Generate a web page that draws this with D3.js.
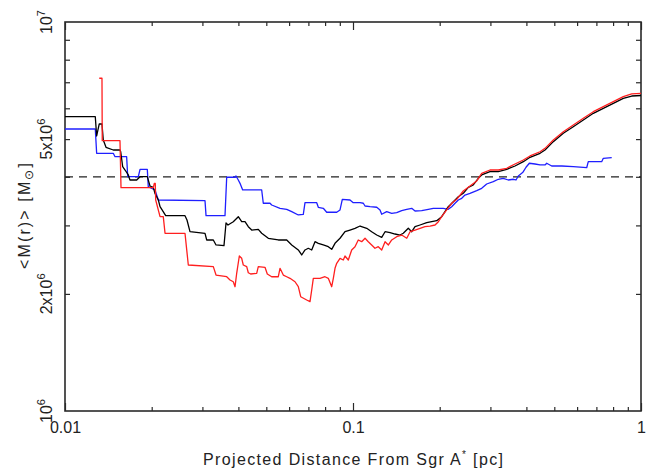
<!DOCTYPE html>
<html>
<head>
<meta charset="utf-8">
<script src="https://cdn.jsdelivr.net/npm/d3@7"></script>
<style>
  html, body { margin: 0; padding: 0; background: #fff; }
  svg { display: block; }
  text { font-family: "Liberation Sans", Arial, Helvetica, sans-serif; fill: #222; }
</style>
</head>
<body>
<svg id="chart" width="659" height="470"></svg>
<script>
// ---------------- data (x in pc, y in units of 10^6 solar masses) ----------------
const blackSeries = [
  [0.0100,5.709],[0.01274,5.709],[0.01288,5.093],[0.01315,5.468],[0.01344,5.468],[0.01358,4.975],
  [0.01388,4.763],[0.01471,4.688],[0.01552,4.688],[0.01561,4.640],[0.01586,4.246],[0.01616,4.164],
  [0.01659,4.044],[0.01681,3.925],[0.01774,3.925],[0.01822,4.003],[0.01931,4.003],[0.01973,3.788],
  [0.02026,3.759],[0.02053,3.627],[0.02109,3.487],[0.02138,3.351],[0.02237,3.178],[0.0261,3.178],
  [0.02652,3.097],[0.02716,2.890],[0.03063,2.863],[0.03105,2.752],[0.03273,2.752],[0.03345,2.672],
  [0.03565,2.661],[0.03623,3.043],[0.03681,3.007],[0.0384,3.066],[0.03997,3.159],[0.04107,3.066],
  [0.04217,3.066],[0.0433,2.977],[0.04449,2.919],[0.0469,2.931],[0.04819,2.863],[0.05081,2.780],
  [0.05503,2.752],[0.05886,2.752],[0.06127,2.672],[0.06458,2.594],[0.06636,2.518],[0.06813,2.594],
  [0.06995,2.620],[0.07188,2.594],[0.0738,2.724],[0.07578,2.698],[0.07886,2.672],[0.08208,2.645],
  [0.08435,2.604],[0.0866,2.698],[0.09014,2.780],[0.09381,2.890],[0.09763,2.919],[0.1016,2.949],
  [0.1058,2.989],[0.1116,2.949],[0.1161,2.890],[0.1209,2.834],[0.1258,2.796],[0.1292,2.890],
  [0.1345,2.873],[0.1399,2.851],[0.1456,2.834],[0.1495,2.863],[0.1556,2.949],[0.1599,2.890],
  [0.1642,2.977],[0.1709,3.007],[0.1803,3.049],[0.1876,3.066],[0.1953,3.085],[0.2032,3.159],
  [0.2086,3.254],[0.2142,3.351],[0.2230,3.451],[0.2321,3.555],[0.2415,3.627],[0.2514,3.759],
  [0.2616,3.811],[0.2723,3.965],[0.2798,4.044],[0.2990,4.123],[0.3195,4.123],[0.3417,4.182],
  [0.3652,4.264],[0.3903,4.374],[0.4118,4.489],[0.4461,4.597],[0.4642,4.688],[0.4961,4.925],
  [0.5374,5.176],[0.5820,5.381],[0.6306,5.599],[0.6830,5.825],[0.7398,5.999],[0.8014,6.180],
  [0.8680,6.366],[0.9285,6.453],[1.0,6.472]
];

const redSeries = [
  [0.01315,7.167],[0.01344,7.167],[0.01347,4.954],[0.01552,4.954],[0.01565,3.750],[0.02026,3.750],
  [0.02042,3.848],[0.02058,3.848],[0.02065,3.487],[0.02138,3.159],[0.02194,3.159],[0.02225,2.863],
  [0.0261,2.863],[0.0268,2.373],[0.03273,2.350],[0.03345,2.236],[0.03643,2.214],[0.03741,2.171],
  [0.0384,2.149],[0.03894,2.087],[0.03947,2.263],[0.0403,2.503],[0.04107,2.469],[0.0416,2.373],
  [0.04275,2.350],[0.0433,2.267],[0.04413,2.250],[0.0463,2.259],[0.0469,2.350],[0.04948,2.341],
  [0.0504,2.250],[0.0522,2.214],[0.05503,2.214],[0.05579,2.327],[0.05728,2.236],[0.05886,2.214],
  [0.06043,2.193],[0.0629,2.149],[0.06458,2.087],[0.06583,1.967],[0.06906,1.929],[0.07091,1.910],
  [0.07188,2.047],[0.07281,2.193],[0.07681,2.193],[0.07994,2.214],[0.08208,2.193],[0.08435,2.087],
  [0.08544,2.193],[0.0866,2.327],[0.08779,2.397],[0.09014,2.469],[0.09254,2.445],[0.09381,2.503],
  [0.09632,2.445],[0.09896,2.594],[0.1016,2.645],[0.1043,2.752],[0.1072,2.724],[0.1101,2.780],
  [0.1130,2.724],[0.1161,2.672],[0.1192,2.620],[0.1224,2.645],[0.1258,2.594],[0.1292,2.724],
  [0.1327,2.672],[0.1363,2.752],[0.1418,2.806],[0.1476,2.834],[0.1537,2.780],[0.1578,2.890],
  [0.1642,2.919],[0.1709,2.949],[0.1778,2.977],[0.1851,2.989],[0.1927,3.007],[0.1979,3.066],
  [0.2032,3.159],[0.2115,3.287],[0.2201,3.420],[0.2292,3.501],[0.2415,3.678],[0.2548,3.788],
  [0.2689,3.903],[0.2798,4.084],[0.2990,4.164],[0.3195,4.164],[0.3417,4.207],[0.3652,4.315],
  [0.3903,4.418],[0.4118,4.525],[0.4461,4.640],[0.4642,4.734],[0.4961,4.975],[0.5374,5.224],
  [0.5820,5.435],[0.6306,5.655],[0.6830,5.881],[0.7398,6.058],[0.8014,6.239],[0.8680,6.427],
  [0.9285,6.531],[1.0,6.558]
];

const blueSeries = [
  [0.0100,5.308],[0.01274,5.308],[0.01288,4.597],[0.01471,4.597],[0.01492,4.505],[0.01637,4.505],
  [0.01651,4.003],[0.01797,4.003],[0.01822,4.182],[0.01931,4.182],[0.01946,3.773],[0.02053,3.700],
  [0.02109,3.487],[0.03063,3.472],[0.03088,3.178],[0.03594,3.178],[0.03643,3.989],[0.03894,3.989],
  [0.03925,4.019],[0.03997,3.925],[0.04052,3.848],[0.0414,3.700],[0.04819,3.700],[0.04881,3.420],
  [0.05151,3.420],[0.0522,3.385],[0.05579,3.320],[0.05886,3.300],[0.06127,3.254],[0.06458,3.191],
  [0.06721,3.204],[0.06813,3.432],[0.07482,3.432],[0.07578,3.340],[0.07886,3.320],[0.08104,3.243],
  [0.08779,3.243],[0.09014,3.287],[0.09181,3.501],[0.09763,3.487],[0.1002,3.432],[0.1058,3.432],
  [0.1086,3.420],[0.1101,3.365],[0.1146,3.351],[0.1209,3.340],[0.1241,3.287],[0.1258,3.204],
  [0.1309,3.254],[0.1363,3.223],[0.1418,3.235],[0.1476,3.273],[0.1537,3.300],[0.1599,3.320],
  [0.1642,3.267],[0.1732,3.273],[0.1826,3.300],[0.1900,3.320],[0.2059,3.320],[0.2142,3.300],
  [0.2201,3.351],[0.2261,3.420],[0.2321,3.487],[0.2385,3.522],[0.2448,3.591],[0.2548,3.627],
  [0.2689,3.686],[0.2798,3.737],[0.2912,3.833],[0.3070,3.886],[0.3195,3.942],[0.3325,3.965],
  [0.3461,3.925],[0.3603,3.942],[0.3681,3.925],[0.3750,4.019],[0.3853,4.084],[0.3903,4.123],
  [0.3988,4.232],[0.4095,4.334],[0.4285,4.315],[0.4461,4.290],[0.4642,4.290],[0.4706,4.334],
  [0.4897,4.264],[0.5306,4.264],[0.5820,4.246],[0.6478,4.221],[0.6561,4.374],[0.6830,4.374],
  [0.7303,4.374],[0.7398,4.463],[0.7913,4.479]
];

const referenceMass = 4.0;                 // dashed horizontal line (10^6 Msun)
const massUnit = 1e6;

const xDomain = [0.01, 1];
const yDomain = [1e6, 1e7];
const xMajorTicks = [0.01, 0.1, 1];
const xMajorLabels = ["0.01", "0.1", "1"];
const xMinorTicks = [0.02,0.03,0.04,0.05,0.06,0.07,0.08,0.09,0.2,0.3,0.4,0.5,0.6,0.7,0.8,0.9];
const yMinorTicks = [2e6,3e6,4e6,5e6,6e6,7e6,8e6,9e6];
const yLabelValues = [1e7, 5e6, 2e6, 1e6];
const yLabelBase = ["10", "5x10", "2x10", "10"];
const yLabelExp = ["7", "6", "6", "6"];

// ---------------- layout ----------------
const plotL = 65, plotR = 641, plotT = 22, plotB = 411;
const svg = d3.select("#chart");

const x = d3.scaleLog().domain(xDomain).range([plotL, plotR]);
const y = d3.scaleLog().domain(yDomain).range([plotB, plotT]);

const axisColor = "#2a2a2a";

function styleAxis(g) {
  g.select(".domain").remove();
  g.selectAll(".tick line").attr("stroke", axisColor).attr("stroke-width", 1.2);
}

// bottom axis
svg.append("g").attr("transform", `translate(0,${plotB})`)
  .call(d3.axisBottom(x).tickValues(xMinorTicks).tickSizeInner(-4).tickSizeOuter(0).tickFormat(""))
  .call(styleAxis);
svg.append("g").attr("transform", `translate(0,${plotB})`)
  .call(d3.axisBottom(x).tickValues(xMajorTicks).tickSizeInner(-8).tickSizeOuter(0)
        .tickPadding(11).tickFormat((d, i) => xMajorLabels[i]))
  .call(styleAxis)
  .call(g => g.selectAll("text").attr("font-size", 16).attr("fill", "#222")
      .attr("font-family", '"Liberation Sans", Arial, sans-serif'));

// top axis
svg.append("g").attr("transform", `translate(0,${plotT})`)
  .call(d3.axisTop(x).tickValues(xMinorTicks).tickSizeInner(-4).tickSizeOuter(0).tickFormat(""))
  .call(styleAxis);
svg.append("g").attr("transform", `translate(0,${plotT})`)
  .call(d3.axisTop(x).tickValues(xMajorTicks).tickSizeInner(-8).tickSizeOuter(0).tickFormat(""))
  .call(styleAxis);

// left & right axes
svg.append("g").attr("transform", `translate(${plotL},0)`)
  .call(d3.axisLeft(y).tickValues(yMinorTicks).tickSizeInner(-5).tickSizeOuter(0).tickFormat(""))
  .call(styleAxis);
svg.append("g").attr("transform", `translate(${plotR},0)`)
  .call(d3.axisRight(y).tickValues(yMinorTicks).tickSizeInner(-5).tickSizeOuter(0).tickFormat(""))
  .call(styleAxis);

// frame
svg.append("rect")
  .attr("x", plotL).attr("y", plotT)
  .attr("width", plotR - plotL).attr("height", plotB - plotT)
  .attr("fill", "none").attr("stroke", axisColor).attr("stroke-width", 1.6);

// y tick labels (rotated, with superscripts)
yLabelValues.forEach((v, i) => {
  const t = svg.append("text")
    .attr("transform", `translate(52,${y(v)}) rotate(-90)`)
    .attr("text-anchor", "middle")
    .attr("font-size", 16);
  t.append("tspan").text(yLabelBase[i]);
  t.append("tspan").attr("font-size", 11).attr("dy", -7).text(yLabelExp[i]);
});

// dashed reference line
svg.append("line")
  .attr("x1", x(xDomain[0])).attr("x2", x(xDomain[1]))
  .attr("y1", y(referenceMass * massUnit)).attr("y2", y(referenceMass * massUnit))
  .attr("stroke", "#222").attr("stroke-width", 1.2)
  .attr("stroke-dasharray", "8,6");

// series
const line = d3.line()
  .x(d => x(d[0]))
  .y(d => y(d[1] * massUnit));

const series = [
  { data: blueSeries,  color: "#1f1fff" },
  { data: blackSeries, color: "#000000" },
  { data: redSeries,   color: "#ff1f1f" }
];
series.forEach(s => {
  svg.append("path")
    .datum(s.data)
    .attr("d", line)
    .attr("fill", "none")
    .attr("stroke", s.color)
    .attr("stroke-width", 1.3)
    .attr("stroke-linejoin", "round");
});

// axis titles
const xt = svg.append("text")
  .attr("x", (plotL + plotR) / 2).attr("y", 465)
  .attr("text-anchor", "middle").attr("font-size", 16)
  .attr("textLength", 300).attr("lengthAdjust", "spacing");
xt.append("tspan").text("Projected Distance From Sgr A");
xt.append("tspan").attr("font-size", 10).attr("dy", -7).text("*");
xt.append("tspan").attr("dy", 7).text(" [pc]");

const yt = svg.append("text")
  .attr("transform", `translate(30,216) rotate(-90)`)
  .attr("text-anchor", "middle").attr("font-size", 16)
  .attr("textLength", 106).attr("lengthAdjust", "spacing");
yt.append("tspan").text("<M(r)>  [M");
yt.append("tspan").attr("font-size", 12).attr("dy", 3).text("⊙");
yt.append("tspan").attr("dy", -3).text("]");
</script>
</body>
</html>
